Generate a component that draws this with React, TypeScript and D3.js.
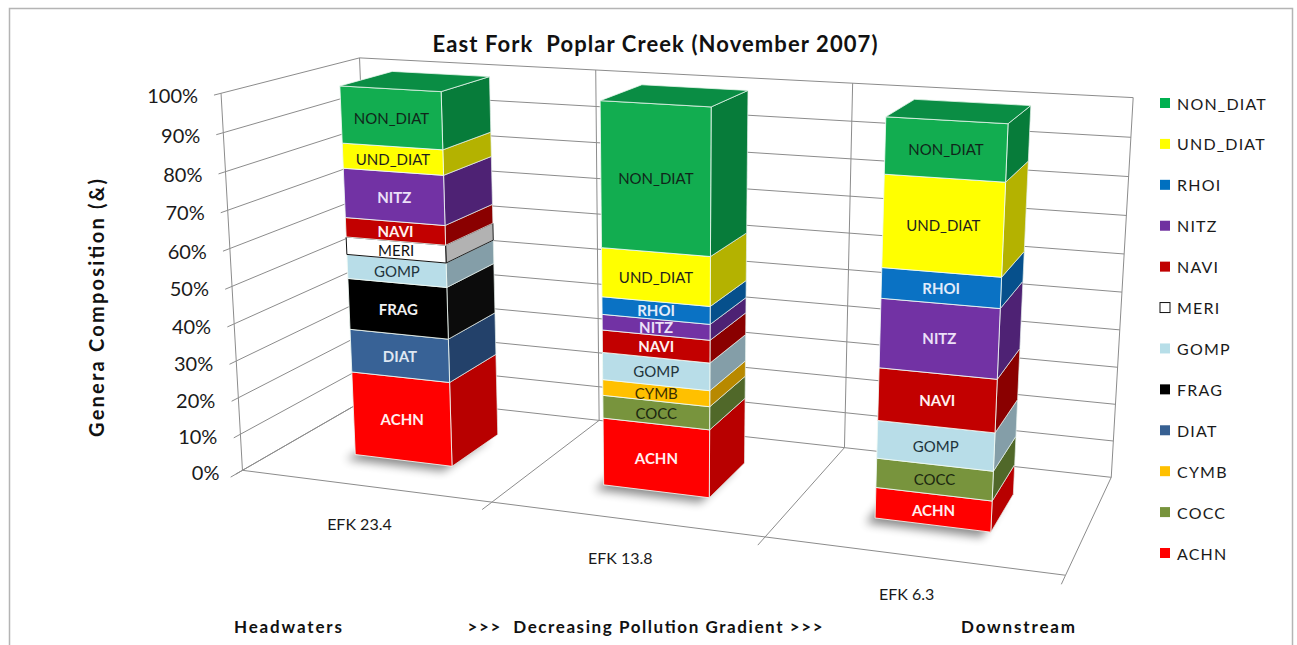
import React from "react";
import * as d3 from "d3";

// ---------- DATA ----------
const categories = ["EFK 23.4", "EFK 13.8", "EFK 6.3"];
// stacking order, bottom to top
const seriesNames = ["ACHN", "COCC", "CYMB", "DIAT", "FRAG", "GOMP", "MERI", "NAVI", "NITZ", "RHOI", "UND_DIAT", "NON_DIAT"];
const ACHN = [23.2, 18.1, 8.0];
const COCC = [0, 6.1, 7.6];
const CYMB = [0, 4.2, 0];
const DIAT = [11.8, 0, 0];
const FRAG = [13.9, 0, 0];
const GOMP = [6.5, 7.2, 9.7];
const MERI = [4.7, 0, 0];
const NAVI = [5.2, 5.9, 13.4];
const NITZ = [13.1, 4.1, 17.4];
const RHOI = [0, 4.6, 7.6];
const UND_DIAT = [6.6, 12.7, 22.7];
const NON_DIAT = [14.9, 37.1, 13.7];
const seriesValues: Record<string, number[]> = { ACHN, COCC, CYMB, DIAT, FRAG, GOMP, MERI, NAVI, NITZ, RHOI, UND_DIAT, NON_DIAT };
const valueTicks = [0, 0.1, 0.2, 0.3, 0.4, 0.5, 0.6, 0.7, 0.8, 0.9, 1.0];

const title = "East Fork  Poplar Creek (November 2007)";
const yTitle = "Genera Composition (&)";
const bottomNotes = ["Headwaters", ">>>  Decreasing Pollution Gradient >>>", "Downstream"];

// ---------- STYLES ----------
const STYLE: Record<string, { front: string; side: string; top: string; legend: string; text: string; bold: boolean; stroke?: string }> = {
  NON_DIAT: { front: "#12ad50", side: "#077c3a", top: "#0a8d44", legend: "#00b050", text: "#10261a", bold: false },
  UND_DIAT: { front: "#ffff00", side: "#b4b200", top: "#c8c600", legend: "#ffff00", text: "#1e1e1e", bold: false },
  RHOI: { front: "#0a72c4", side: "#06508c", top: "#06508c", legend: "#0070c0", text: "#e2ecfa", bold: true },
  NITZ: { front: "#7232a4", side: "#4e2274", top: "#4e2274", legend: "#7030a0", text: "#ece0f8", bold: true },
  NAVI: { front: "#c20000", side: "#8a0000", top: "#8a0000", legend: "#c00000", text: "#fff0f0", bold: true },
  MERI: { front: "#ffffff", side: "#b2b2b2", top: "#d0d0d0", legend: "#ffffff", text: "#111111", bold: false, stroke: "#111111" },
  GOMP: { front: "#b8dde8", side: "#849ea8", top: "#9cb8c0", legend: "#b7dee8", text: "#22343c", bold: false },
  FRAG: { front: "#000000", side: "#0c0c0c", top: "#111111", legend: "#000000", text: "#f2f2f2", bold: true },
  DIAT: { front: "#386296", side: "#23416a", top: "#23416a", legend: "#376092", text: "#dfe7f2", bold: true },
  CYMB: { front: "#ffc000", side: "#b88900", top: "#b88900", legend: "#ffc000", text: "#3c3000", bold: false },
  COCC: { front: "#78943d", side: "#506829", top: "#506829", legend: "#77933c", text: "#1c2810", bold: false },
  ACHN: { front: "#ff0000", side: "#b80000", top: "#b80000", legend: "#ff0000", text: "#fff0f0", bold: true },
};

const W = 1297;
const H = 645;
const FONT = "Lato, 'Open Sans', sans-serif";
const GRID = "#8c8c8c";

// frame corners: unit box (x: categories, y: value, z: depth) -> picture position
const FRAME_ANCHORS: number[][] = [
  [0, 0, 0, 243, 470],
  [0, 1, 0, 220, 93],
  [0, 1, 1, 360, 58],
  [1, 1, 1, 1133, 98],
  [1, 0, 1, 1112, 477],
  [1, 0, 0, 1065, 576],
  [1 / 3, 0, 0, 493, 502],
  [2 / 3, 0, 0, 765, 537],
  [1 / 3, 0, 1, 597, 422],
  [2 / 3, 0, 1, 845, 446],
  [1 / 3, 1, 1, 597, 70],
  [2 / 3, 1, 1, 852, 83],
];

function fitCamera(anchors: number[][]) {
  const cx = 650, cy = 320, s = 500;
  const rows: number[][] = [];
  const rhs: number[] = [];
  for (const [X, Y, Z, u0, v0] of anchors) {
    const u = (u0 - cx) / s, v = (v0 - cy) / s;
    rows.push([X, Y, Z, 1, 0, 0, 0, 0, -u * X, -u * Y, -u * Z]);
    rhs.push(u);
    rows.push([0, 0, 0, 0, X, Y, Z, 1, -v * X, -v * Y, -v * Z]);
    rhs.push(v);
  }
  const n = 11;
  const M: number[][] = [];
  for (let r = 0; r < n; r++) {
    const row = new Array(n + 1).fill(0);
    for (let c = 0; c < n; c++) {
      let sum = 0;
      for (let k = 0; k < rows.length; k++) sum += rows[k][r] * rows[k][c];
      row[c] = sum;
    }
    let sb = 0;
    for (let k = 0; k < rows.length; k++) sb += rows[k][r] * rhs[k];
    row[n] = sb;
    M.push(row);
  }
  for (let i = 0; i < n; i++) {
    let piv = i;
    for (let r = i + 1; r < n; r++) if (Math.abs(M[r][i]) > Math.abs(M[piv][i])) piv = r;
    const tmp = M[i]; M[i] = M[piv]; M[piv] = tmp;
    for (let r = 0; r < n; r++) {
      if (r === i) continue;
      const f = M[r][i] / M[i][i];
      for (let c = i; c <= n; c++) M[r][c] -= f * M[i][c];
    }
  }
  const p = M.map((row, i) => row[n] / row[i]);
  return (X: number, Y: number, Z: number): [number, number] => {
    const w = p[8] * X + p[9] * Y + p[10] * Z + 1;
    return [
      ((p[0] * X + p[1] * Y + p[2] * Z + p[3]) / w) * s + cx,
      ((p[4] * X + p[5] * Y + p[6] * Z + p[7]) / w) * s + cy,
    ];
  };
}

const project = fitCamera(FRAME_ANCHORS);

const xBand = d3.scaleBand<string>().domain(categories).range([0, 1]).paddingInner(0.6).paddingOuter(0.3);
const yScale = d3.scaleLinear().domain([0, 1]).range([0, 1]);
const zBar: [number, number] = [0.3, 0.7];
const fmtPct = d3.format(".0%");

const poly = (pts: [number, number][]) => (d3.line()(pts) || "") + "Z";
const seg = (a: [number, number], b: [number, number]) => `M${a[0]},${a[1]}L${b[0]},${b[1]}`;

export default function App() {
  const table = categories.map((c, i) => {
    const row: any = { category: c };
    seriesNames.forEach((k) => (row[k] = seriesValues[k][i]));
    return row;
  });
  const stacked = d3.stack<any>().keys(seriesNames).offset(d3.stackOffsetExpand)(table);

  // ---- frame ----
  const gridPaths: string[] = [];
  valueTicks.forEach((t) => {
    const v = yScale(t);
    gridPaths.push(seg(project(0, v, 0), project(0, v, 1)));
    gridPaths.push(seg(project(0, v, 1), project(1, v, 1)));
  });
  const xDivs = [0, 1 / 3, 2 / 3, 1];
  xDivs.forEach((x) => {
    gridPaths.push(seg(project(x, 0, 1), project(x, 1, 1)));
    gridPaths.push(seg(project(x, 0, 0), project(x, 0, 1)));
  });
  gridPaths.push(seg(project(0, 0, 0), project(0, 1, 0)));
  gridPaths.push(seg(project(0, 0, 0), project(1, 0, 0)));
  const tickPaths: string[] = [];
  valueTicks.forEach((t) => tickPaths.push(seg(project(0, yScale(t), 0), project(0, yScale(t), -0.045))));
  xDivs.forEach((x) => tickPaths.push(seg(project(x, 0, 0), project(x, 0, -0.08))));

  // ---- bars ----
  const shadows: React.ReactNode[] = [];
  const bars: React.ReactNode[] = [];
  const labels: React.ReactNode[] = [];
  categories.forEach((c, ci) => {
    const x0 = xBand(c)!;
    const x1 = x0 + xBand.bandwidth();
    const [z0, z1] = zBar;
    const foot = [project(x0, 0, z0), project(x1, 0, z0), project(x1, 0, z1), project(x0, 0, z1)].map(
      (p) => [p[0] - 9, p[1] + 5] as [number, number]
    );
    shadows.push(<path key={`sh${ci}`} d={poly(foot)} fill="#000" opacity={0.45} filter="url(#blur)" />);
    let topKey = "";
    let topY = 0;
    stacked.forEach((layer) => {
      const [a, b] = layer[ci];
      if (b - a <= 0) return;
      const key = layer.key;
      const st = STYLE[key];
      const y0 = yScale(a), y1 = yScale(b);
      const front: [number, number][] = [project(x0, y0, z0), project(x1, y0, z0), project(x1, y1, z0), project(x0, y1, z0)];
      const side: [number, number][] = [project(x1, y0, z0), project(x1, y0, z1), project(x1, y1, z1), project(x1, y1, z0)];
      const edge = st.stroke || "rgba(240,250,245,0.85)";
      bars.push(
        <g key={`${ci}-${key}`}>
          <path d={poly(side)} fill={st.side} stroke={st.stroke ? "#222" : "rgba(230,240,235,0.7)"} strokeWidth={1} />
          <path d={poly(front)} fill={st.front} stroke={edge} strokeWidth={1} />
        </g>
      );
      const cxp = d3.mean(front, (p) => p[0])!;
      const cyp = d3.mean(front, (p) => p[1])!;
      labels.push(
        <text
          key={`l${ci}-${key}`}
          x={cxp}
          y={cyp}
          textAnchor="middle"
          dominantBaseline="central"
          fontFamily={FONT}
          fontSize={15}
          fontWeight={st.bold ? 700 : 400}
          fill={st.text}
        >
          {key}
        </text>
      );
      topKey = key;
      topY = y1;
    });
    const top: [number, number][] = [project(x0, topY, z0), project(x1, topY, z0), project(x1, topY, z1), project(x0, topY, z1)];
    bars.push(
      <path key={`top${ci}`} d={poly(top)} fill={STYLE[topKey].top} stroke="rgba(230,245,235,0.8)" strokeWidth={1} />
    );
  });

  const legendKeys = [...seriesNames].reverse();
  const legendY = d3.scalePoint<string>().domain(legendKeys).range([103, 553]);

  return (
    <svg width={W} height={H} style={{ position: "absolute", left: 0, top: 0, background: "#fff" }}>
      <defs>
        <filter id="blur" x="-30%" y="-30%" width="160%" height="160%">
          <feGaussianBlur stdDeviation={5} />
        </filter>
      </defs>
      <rect x={0} y={0} width={W} height={H} fill="#fff" />
      <rect x={9.5} y={8.5} width={1283} height={650} fill="none" stroke="#b4b4b4" strokeWidth={1.5} />
      <text x={655} y={52} textAnchor="middle" fontFamily={FONT} fontWeight={700} fontSize={22} fill="#111" textLength={445} xmlSpace="preserve">
        {title}
      </text>
      <text
        transform={`translate(104,308) rotate(-90)`}
        textAnchor="middle"
        fontFamily={FONT}
        fontWeight={700}
        fontSize={20}
        fill="#111"
        textLength={258}
      >
        {yTitle}
      </text>

      <g fill="none" stroke={GRID} strokeWidth={1}>
        {gridPaths.map((d, i) => (
          <path key={i} d={d} />
        ))}
        {tickPaths.map((d, i) => (
          <path key={`t${i}`} d={d} />
        ))}
      </g>

      {valueTicks.map((t) => {
        const p = project(0, yScale(t), 0);
        return (
          <text key={t} x={p[0] - 23} y={p[1] + 2} textAnchor="end" dominantBaseline="central" fontFamily={FONT} fontSize={20} fill="#1a1a1a">
            {fmtPct(t)}
          </text>
        );
      })}

      {categories.map((c) => {
        const p = project(xBand(c)! + xBand.bandwidth() / 2, 0, 0);
        return (
          <text key={c} x={p[0] - 5} y={p[1] + 38} textAnchor="middle" dominantBaseline="central" fontFamily={FONT} fontSize={16} fill="#1a1a1a">
            {c}
          </text>
        );
      })}

      <g>{shadows}</g>
      <g>{bars}</g>
      <g>{labels}</g>

      {legendKeys.map((k) => {
        const y = legendY(k)!;
        const st = STYLE[k];
        return (
          <g key={k}>
            <rect x={1160} y={y - 5} width={10} height={10} fill={st.legend} stroke={k === "MERI" ? "#111" : "none"} strokeWidth={1} />
            <text x={1177} y={y} dominantBaseline="central" fontFamily={FONT} fontSize={16} letterSpacing={1.2} fill="#1a1a1a">
              {k}
            </text>
          </g>
        );
      })}

      <text x={288} y={626} textAnchor="middle" dominantBaseline="central" fontFamily={FONT} fontWeight={700} fontSize={17} fill="#111" textLength={108}>
        {bottomNotes[0]}
      </text>
      <text x={645} y={626} textAnchor="middle" dominantBaseline="central" fontFamily={FONT} fontWeight={700} fontSize={17} fill="#111" textLength={355} xmlSpace="preserve">
        {bottomNotes[1]}
      </text>
      <text x={1018} y={626} textAnchor="middle" dominantBaseline="central" fontFamily={FONT} fontWeight={700} fontSize={17} fill="#111" textLength={114}>
        {bottomNotes[2]}
      </text>
    </svg>
  );
}
